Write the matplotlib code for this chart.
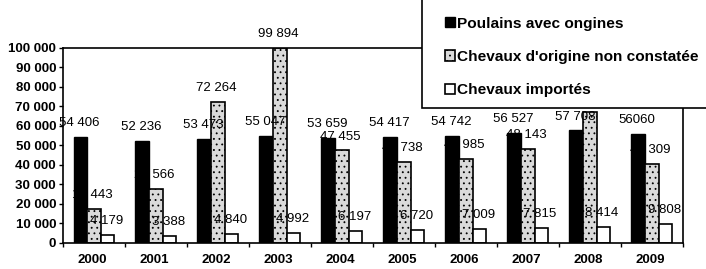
import matplotlib
matplotlib.use('Agg')
import matplotlib.pyplot as plt
from matplotlib.patches import Rectangle
import numpy as np

plt.rcParams['font.family'] = ['Liberation Sans', 'DejaVu Sans']
plt.rcParams['hatch.linewidth'] = 0.6

years = ['2000', '2001', '2002', '2003', '2004', '2005', '2006', '2007', '2008', '2009']
poulains = [54406, 52236, 53473, 55047, 53659, 54417, 54742, 56527, 57708, 56060]
non_constatee = [17443, 27566, 72264, 99894, 47455, 41738, 42985, 48143, 67300, 40309]
importes = [4179, 3388, 4840, 4992, 6197, 6720, 7009, 7815, 8414, 9808]
series_names = ['Poulains avec ongines', "Chevaux d'origine non constatée", 'Chevaux importés']


def fmt(v):
    return '{:,}'.format(v).replace(',', ' ')


poulains_labels = [fmt(v) for v in poulains[:-1]] + ['56060']
# the 2008 value of the second series is hidden behind the legend in the original
non_constatee_labels = [fmt(v) for v in non_constatee]
non_constatee_labels[8] = ''
importes_labels = [fmt(v) for v in importes]

fig = plt.figure(figsize=(7.06, 2.69), dpi=100)
ax = fig.add_axes([0.0892, 0.0967, 0.878, 0.725])

x = np.arange(len(years))
w = 0.22
b1 = ax.bar(x - w, poulains, w, color='black', edgecolor='black', linewidth=1, label=series_names[0])
b2 = ax.bar(x, non_constatee, w, color='#dadada', edgecolor='black', hatch='...',
            linewidth=1.2, label=series_names[1])
b3 = ax.bar(x + w, importes, w, color='white', edgecolor='black', linewidth=1.2, label=series_names[2])

for bars, labels in [(b1, poulains_labels), (b2, non_constatee_labels), (b3, importes_labels)]:
    for rect, lab in zip(bars, labels):
        if not lab:
            continue
        ax.annotate(lab, (rect.get_x() + rect.get_width() / 2, rect.get_height()),
                    xytext=(-1, 10), textcoords='offset points', ha='center', va='center',
                    fontsize=9.5, clip_on=False, zorder=5)

ax.set_xlim(-0.5, 9.5)
ax.set_ylim(0, 100000)
ax.set_yticks(np.arange(0, 100001, 10000))
ax.set_yticklabels([fmt(v) for v in range(0, 100001, 10000)], fontsize=9.5, fontweight='bold')
ax.set_xticks(x - 0.03)
ax.set_xticklabels(years, fontsize=9.5, fontweight='bold')
ax.tick_params(axis='x', length=0, pad=8)
ax.set_xticks(np.arange(-0.5, 10, 1), minor=True)
ax.tick_params(axis='x', which='minor', length=3, width=1, direction='out')
ax.tick_params(axis='y', length=3, width=1, pad=2)
for s in ax.spines.values():
    s.set_linewidth(1.2)

# legend box, partly running off the top/right of the figure
fig.patches.append(Rectangle((0.598, 0.5985), 0.5, 0.5, transform=fig.transFigure,
                             facecolor='white', edgecolor='black', linewidth=1.2, zorder=10))
leg = fig.legend(handles=[b1, b2, b3], labels=series_names, loc='center left',
                 bbox_to_anchor=(0.630, 0.788), frameon=False, prop={'size': 11.1, 'weight': 'bold'},
                 handlelength=0.65, handleheight=0.65, handletextpad=0.13, labelspacing=1.26,
                 borderpad=0, borderaxespad=0)
leg.set_zorder(11)

fig.savefig('out.png', dpi=100)
